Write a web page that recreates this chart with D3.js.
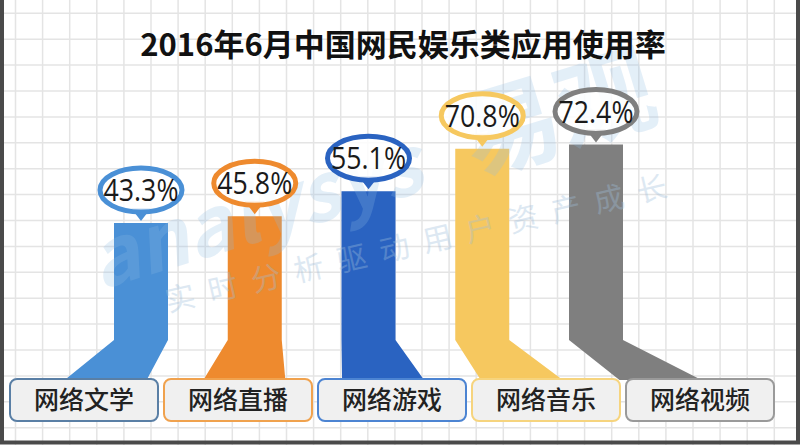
<!DOCTYPE html>
<html><head><meta charset="utf-8">
<script src="https://cdn.jsdelivr.net/npm/d3@7"></script>
<style>
html,body{margin:0;padding:0;background:#fff;}
svg{display:block;}
</style></head>
<body>
<svg id="chart" width="800" height="445"></svg>
<script>
// ---- data ----
const title = "2016年6月中国网民娱乐类应用使用率";
const categories = ["网络文学", "网络直播", "网络游戏", "网络音乐", "网络视频"];
const values = [43.3, 45.8, 55.1, 70.8, 72.4];
const valueLabels = ["43.3%", "45.8%", "55.1%", "70.8%", "72.4%"];
const watermarkLatin = "analysys";
const watermarkCJK = "易观";
const watermarkSub = "实时分析驱动用户资产成长";

// ---- styles ----
const barColors = ["#4A90D6", "#EE8A2E", "#2A63C1", "#F6C85F", "#7F7F7F"];
const boxStrokes = ["#5A7FA5", "#F0A24E", "#4C84D2", "#F6D47E", "#9A9A9A"];

const W = 800, H = 445;
const svg = d3.select("#chart");

// grid background
const grid = svg.append("g");
const gx = d3.range(15.5, W, 27.1);
const gy = d3.range(13.3, H, 25.9);
grid.selectAll("line.v").data(gx).enter().append("line")
  .attr("x1", d => d).attr("x2", d => d).attr("y1", 0).attr("y2", H)
  .attr("stroke", "#e4e4e4").attr("stroke-width", 1.5);
grid.selectAll("line.h").data(gy).enter().append("line")
  .attr("y1", d => d).attr("y2", d => d).attr("x1", 0).attr("x2", W)
  .attr("stroke", "#e4e4e4").attr("stroke-width", 1.5);

// scales
const y = d3.scaleLinear().domain([0, 100]).range([340, 70]);
const xBar = d3.scalePoint().domain(categories).range([141, 596]);
const xBox = d3.scaleBand().domain(categories).range([10, 774]).paddingInner(0.039).paddingOuter(0);
const barW = 54;
const boxTop = 379, boxH = 42;
const footW = 82, footFrac = 0.62;

// bars with feet
const bars = svg.append("g");
categories.forEach((c, i) => {
  const cx = xBar(c);
  const lx = xBox(c) + xBox.bandwidth() / 2;
  const bc = cx + footFrac * (lx - cx);
  const yt = y(values[i]), y0 = y(0);
  const p = d3.path();
  p.moveTo(cx - barW / 2, yt);
  p.lineTo(cx + barW / 2, yt);
  p.lineTo(cx + barW / 2, y0);
  p.lineTo(bc + footW / 2, boxTop + 1);
  p.lineTo(bc - footW / 2, boxTop + 1);
  p.lineTo(cx - barW / 2, y0);
  p.closePath();
  bars.append("path").attr("d", p.toString()).attr("fill", barColors[i]);
});

// category boxes
const boxes = svg.append("g");
categories.forEach((c, i) => {
  boxes.append("rect")
    .attr("x", xBox(c)).attr("y", boxTop)
    .attr("width", xBox.bandwidth()).attr("height", boxH)
    .attr("rx", 7).attr("ry", 7)
    .attr("fill", "#F0F0F0").attr("stroke", boxStrokes[i]).attr("stroke-width", 2);
  boxes.append("text")
    .attr("x", xBox(c) + xBox.bandwidth() / 2).attr("y", boxTop + boxH / 2 + 9)
    .attr("text-anchor", "middle")
    .attr("font-family", "'Noto Sans CJK SC', sans-serif")
    .attr("font-weight", 500)
    .attr("font-size", 25)
    .attr("fill", "#222")
    .text(c);
});

// watermark
const wm = svg.append("text")
  .attr("transform", "translate(100,290) rotate(-17)")
  .attr("font-family", "'Noto Sans CJK SC', sans-serif")
  .attr("font-weight", "bold")
  .attr("fill", "#8fbde4").attr("opacity", 0.24);
wm.append("tspan").attr("font-style", "italic").attr("font-size", 80).text(watermarkLatin);
wm.append("tspan").attr("font-size", 98).attr("dx", 50).text(watermarkCJK);
svg.append("text")
  .attr("transform", "translate(168,312) rotate(-13)")
  .attr("font-family", "'Noto Sans CJK SC', sans-serif")
  .attr("font-size", 30).attr("letter-spacing", 14)
  .attr("fill", "#9fbfdc").attr("opacity", 0.35)
  .text(watermarkSub);

// bubbles
const bub = svg.append("g");
const rx = 41, ry = 22, gap = 33;
categories.forEach((c, i) => {
  const cx = xBar(c);
  const yt = y(values[i]);
  const cy = yt - gap;
  bub.append("path")
    .attr("d", `M${cx - 10},${cy + ry - 4} L${cx + 10},${cy + ry - 4} L${cx},${yt - 2} Z`)
    .attr("fill", barColors[i]);
  bub.append("ellipse")
    .attr("cx", cx).attr("cy", cy).attr("rx", rx).attr("ry", ry)
    .attr("fill", "#ffffff").attr("fill-opacity", 0.85)
    .attr("stroke", barColors[i]).attr("stroke-width", 5);
  bub.append("text")
    .attr("x", cx).attr("y", cy + 11)
    .attr("text-anchor", "middle")
    .attr("font-family", "'Open Sans', 'Noto Sans', sans-serif")
    .attr("font-size", 31)
    .attr("textLength", 75).attr("lengthAdjust", "spacingAndGlyphs")
    .attr("fill", "#1a1a1a")
    .text(valueLabels[i]);
});

// title
svg.append("text")
  .attr("x", 403).attr("y", 56)
  .attr("text-anchor", "middle")
  .attr("font-family", "'Noto Sans CJK SC', sans-serif")
  .attr("font-weight", "bold")
  .attr("font-size", 31)
  .attr("fill", "#111")
  .text(title);

// frame
const frame = svg.append("g").attr("stroke", "#4a4a4a").attr("stroke-width", 4).attr("fill", "none");
frame.append("path").attr("d", `M2,0 L2,${H - 2.5} L${W - 2},${H - 2.5} L${W - 2},0`);
</script>
</body></html>
